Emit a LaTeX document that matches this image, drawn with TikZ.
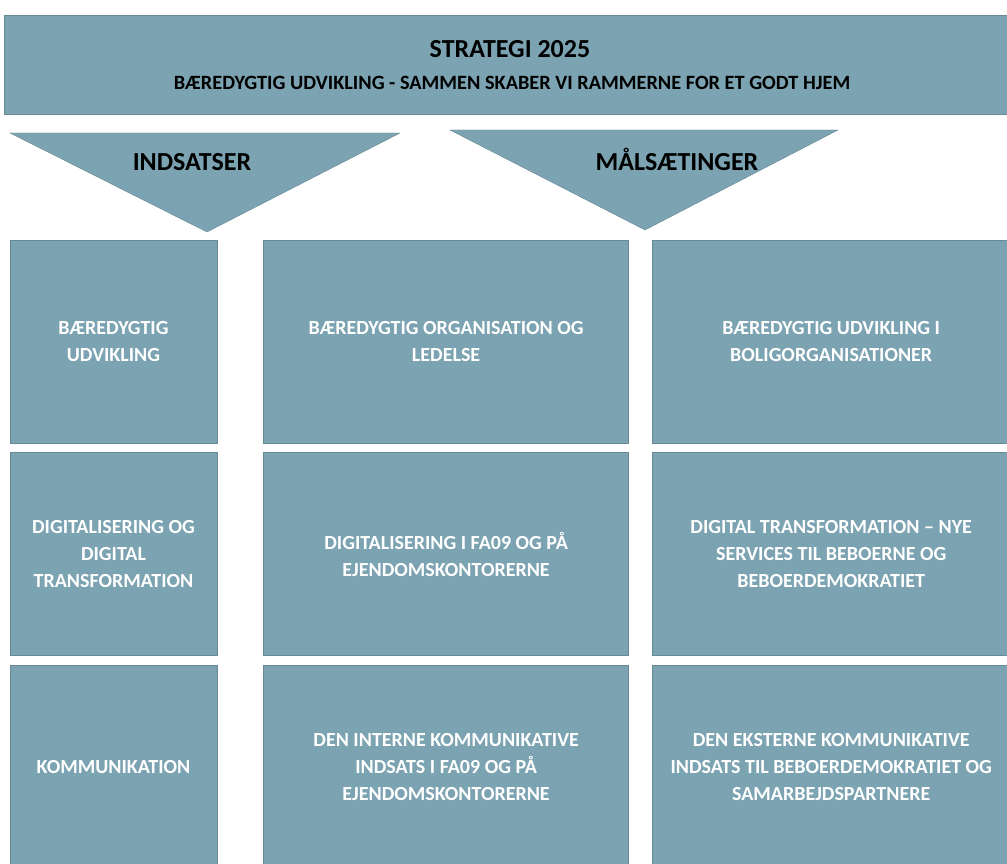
\documentclass[tikz,border=0pt]{standalone}
\usepackage{fontspec}
\setmainfont{Carlito}
\usepackage{tikz}
\usetikzlibrary{positioning}
\definecolor{strategiblaa}{RGB}{123,163,177}
\definecolor{strategikant}{RGB}{104,136,149}
\tikzset{
    %Define style for boxes
    felt/.style={
           rectangle,
           draw=strategikant, line width=0.6pt,
           fill=strategiblaa,
           minimum height=203pt,
           inner sep=0pt,
           font=\fontsize{20}{27}\selectfont\bfseries,
           text=white,
           align=center},
    smalfelt/.style={felt, minimum width=207pt},
    midtfelt/.style={felt, minimum width=365pt},
    bredfelt/.style={felt, minimum width=358pt},
    %Define style for the arrow triangles
    trekant/.style={
           fill=strategiblaa,
           draw=strategikant, line width=0.4pt},
    %Define style for headings
    overskrift/.style={
           font=\fontsize{26}{31}\selectfont\bfseries,
           text=black},
    underskrift/.style={
           font=\fontsize{20.3}{24}\selectfont\bfseries,
           text=black}
}

\begin{document}
\begin{tikzpicture}[x=1pt,y=-1pt,node distance=9pt and 46pt]
\useasboundingbox (0,0) rectangle (1007,864);
% banner
\node[felt, minimum width=1010pt, minimum height=99pt] (banner) at (509,64.5) {};
\node[overskrift] (titel) at (510,49) {STRATEGI 2025};
\node[underskrift] (undertitel) at (512,83) {BÆREDYGTIG UDVIKLING - SAMMEN SKABER VI RAMMERNE FOR ET GODT HJEM};
% triangles
\filldraw[trekant] (10,133) -- (400,133) -- (207,232) -- cycle;
\filldraw[trekant] (450,130) -- (838,130) -- (645,230) -- cycle;
\node[overskrift, anchor=base] (indsatser) at (192,171) {INDSATSER};
\node[overskrift, anchor=base] (maal) at (677,171) {MÅLSÆTINGER};
% indsatser
\node[smalfelt] (baeredygtig) at (113.5,341.5) {BÆREDYGTIG\\UDVIKLING};
\node[smalfelt, below=of baeredygtig] (digital) {DIGITALISERING OG\\DIGITAL\\TRANSFORMATION};
\node[smalfelt, below=of digital] (kommunikation) {KOMMUNIKATION};
% maalsaetninger
\node[midtfelt, right=of baeredygtig] (organisation) {BÆREDYGTIG ORGANISATION OG\\LEDELSE};
\node[midtfelt, below=of organisation] (fa09) {DIGITALISERING I FA09 OG PÅ\\EJENDOMSKONTORERNE};
\node[midtfelt, below=of fa09] (intern) {DEN INTERNE KOMMUNIKATIVE\\INDSATS I FA09 OG PÅ\\EJENDOMSKONTORERNE};
\node[bredfelt, right=23pt of organisation] (bolig) {BÆREDYGTIG UDVIKLING I\\BOLIGORGANISATIONER};
\node[bredfelt, below=of bolig] (services) {DIGITAL TRANSFORMATION – NYE\\SERVICES TIL BEBOERNE OG\\BEBOERDEMOKRATIET};
\node[bredfelt, below=of services] (ekstern) {DEN EKSTERNE KOMMUNIKATIVE\\INDSATS TIL BEBOERDEMOKRATIET OG\\SAMARBEJDSPARTNERE};
\end{tikzpicture}
\end{document}
